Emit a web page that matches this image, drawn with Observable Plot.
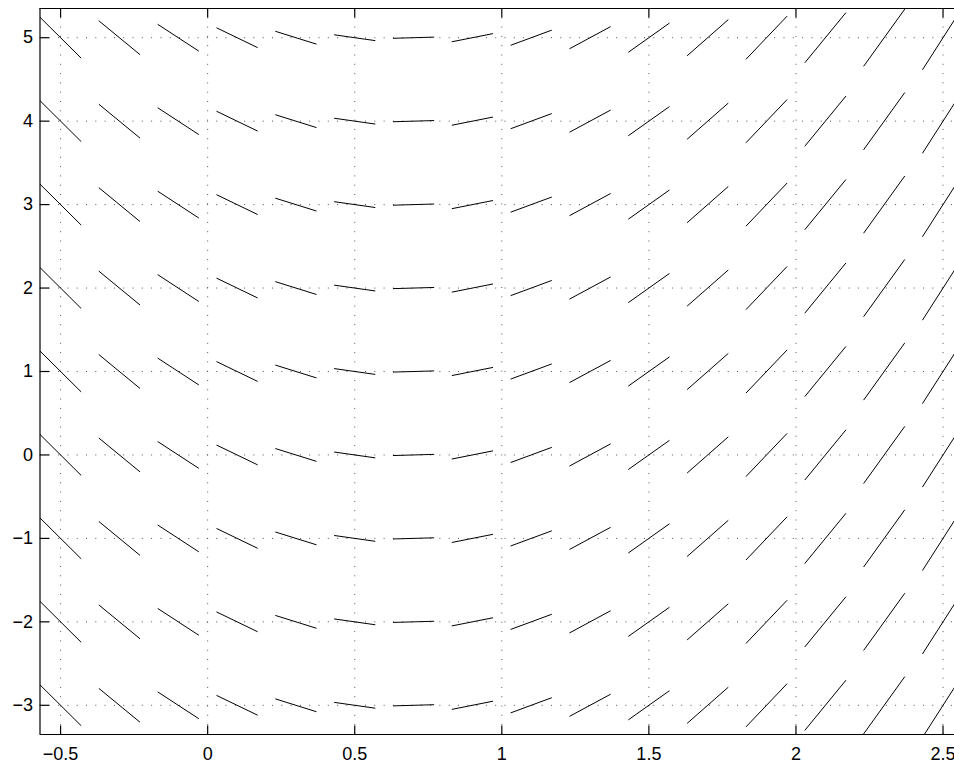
<!DOCTYPE html>
<html>
<head>
<meta charset="utf-8">
<script src="https://cdn.jsdelivr.net/npm/d3@7"></script>
<script src="https://cdn.jsdelivr.net/npm/@observablehq/plot@0.6"></script>
<style>
  html, body { margin: 0; padding: 0; background: #fff; overflow: hidden; }
  #chart svg { display: block; }
</style>
</head>
<body>
<div id="chart"></div>
<script>
// Grid columns (x) and rows (y) of the slope field
const xs = [-0.5, -0.3, -0.1, 0.1, 0.3, 0.5, 0.7, 0.9, 1.1, 1.3, 1.5, 1.7, 1.9, 2.1, 2.3, 2.5];
const ys = [-3, -2, -1, 0, 1, 2, 3, 4, 5];
// Slope read for each column (identical in every row)
const slopes = [-3.5, -2.9, -2.3, -1.7, -1.1, -0.5, 0.1, 0.7, 1.3, 1.9, 2.5, 3.1, 3.7, 4.3, 4.9, 5.5];
// Tick values
const xTicks = [-0.5, 0, 0.5, 1, 1.5, 2, 2.5];
const yTicks = [-3, -2, -1, 0, 1, 2, 3, 4, 5];
const halfDx = 0.07;

const segs = [];
ys.forEach(y => xs.forEach((x, i) => {
  const s = slopes[i];
  segs.push({x1: x - halfDx, x2: x + halfDx, y1: y - s * halfDx, y2: y + s * halfDx});
}));

const W = 954, H = 765, mL = 39.5, mR = 0, mT = 8, mB = 31;
const frameW = W - mL - mR, frameH = H - mT - mB, tick = 9;
const xDomain = [-0.57, 2.539];
const yDomain = [-3.35, 5.35];
// inward tick length (px) converted to data units
const tickDx = tick * (xDomain[1] - xDomain[0]) / frameW;
const tickDy = tick * (yDomain[1] - yDomain[0]) / frameH;
const fmt = d => d3.format("")(d).replace("-", "\u2212");

const chart = Plot.plot({
  width: W,
  height: H,
  marginLeft: mL,
  marginRight: mR,
  marginTop: mT,
  marginBottom: mB,
  style: {fontFamily: "'Liberation Sans', Arial, Helvetica, sans-serif", fontSize: "18px", color: "#000", background: "#fff"},
  x: {domain: xDomain, ticks: xTicks},
  y: {domain: yDomain, ticks: yTicks},
  marks: [
    Plot.gridX(xTicks, {stroke: "#555", strokeOpacity: 1, strokeWidth: 1, strokeDasharray: "1,8.3"}),
    Plot.gridY(yTicks, {stroke: "#555", strokeOpacity: 1, strokeWidth: 1, strokeDasharray: "1,8.3"}),
    Plot.link(segs, {x1: "x1", y1: "y1", x2: "x2", y2: "y2", stroke: "#000", strokeWidth: 1, clip: true}),
    // inward ticks
    Plot.link(xTicks, {x1: d => d, x2: d => d, y1: yDomain[0], y2: yDomain[0] + tickDy, stroke: "#000", strokeWidth: 1.2}),
    Plot.link(xTicks, {x1: d => d, x2: d => d, y1: yDomain[1], y2: yDomain[1] - tickDy, stroke: "#000", strokeWidth: 1.2}),
    Plot.link(yTicks, {y1: d => d, y2: d => d, x1: xDomain[0], x2: xDomain[0] + tickDx, stroke: "#000", strokeWidth: 1.2}),
    // labels
    Plot.axisX(xTicks, {anchor: "bottom", tickSize: 0, tickPadding: 13, tickFormat: fmt, label: null, fill: "#000"}),
    Plot.axisY(yTicks, {anchor: "left", tickSize: 0, tickPadding: 7, tickFormat: fmt, label: null, fill: "#000"}),
    // frame (top, left, bottom)
    Plot.ruleY([yDomain[1]], {stroke: "#000", strokeWidth: 1.2}),
    Plot.ruleY([yDomain[0]], {stroke: "#000", strokeWidth: 1.2}),
    Plot.ruleX([xDomain[0]], {stroke: "#000", strokeWidth: 1.2})
  ]
});
document.getElementById("chart").appendChild(chart);
</script>
</body>
</html>
